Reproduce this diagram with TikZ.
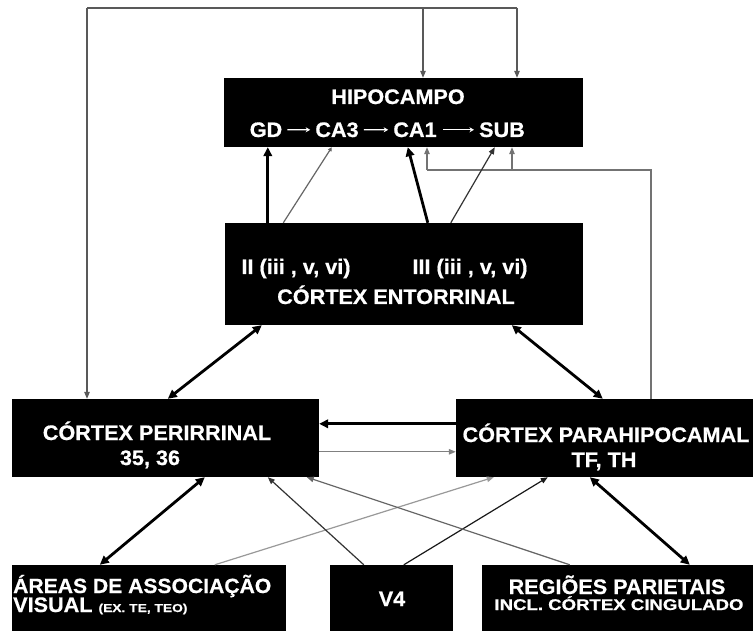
\documentclass[tikz,border=0pt]{standalone}
\usepackage{fontspec}
\setmainfont{Liberation Sans}[FakeStretch=1.03,FakeBold=0.6]
\newfontfamily\widefont{Liberation Sans}[FakeStretch=1.2,FakeBold=0.6]
\usetikzlibrary{arrows.meta}
\begin{document}
\begin{tikzpicture}[x=1pt,y=-1pt,
  box/.style={fill=black,draw=none,inner sep=0pt},
  lbl/.style={text=white,font=\fontsize{21}{24}\selectfont\bfseries,inner sep=0pt,anchor=base},
  lblw/.style={lbl,anchor=base west},
  small/.style={text=white,font=\widefont\fontsize{15.5}{18}\selectfont\bfseries,inner sep=0pt,anchor=base},
  thk/.style={line width=2.8pt,draw=black},
  thka/.style={thk,-{Triangle[length=9pt,width=8.5pt]}},
  thkd/.style={thk,{Triangle[length=9pt,width=8.5pt]}-{Triangle[length=9pt,width=8.5pt]}},
  thnl/.style={line width=1.2pt,draw=#1},
  thnl/.default={black!65},
  thna/.style={line width=1.2pt,draw=#1,-{Triangle[length=7pt,width=5.5pt]}},
  thna/.default={black!65},
  txtarr/.style={draw=white,line width=1.2pt,-{Stealth[length=4.5pt,width=5pt]}}
]
\fill[white] (0,0) rectangle (753,631);
\useasboundingbox (0,0) rectangle (753,631);

% boxes
\node[box,minimum width=359pt,minimum height=69pt] (hip) at (403.5,112.5) {};
\node[box,minimum width=358.5pt,minimum height=102pt] (ent) at (403.75,274) {};
\node[box,minimum width=307pt,minimum height=78pt] (peri) at (165.5,438) {};
\node[box,minimum width=297pt,minimum height=78pt] (para) at (604.5,438) {};
\node[box,minimum width=274pt,minimum height=66pt] (areas) at (149,598) {};
\node[box,minimum width=123pt,minimum height=66pt] (v4) at (391.5,598) {};
\node[box,minimum width=271pt,minimum height=66pt] (reg) at (617.5,598) {};

% texts
\node[lbl] (hipt) at (398,104) {HIPOCAMPO};
\node[lbl] (gd) at (266,137) {GD};
\node[lbl] (ca3) at (337,137) {CA3};
\node[lbl] (ca1) at (415,137) {CA1};
\node[lbl] (sub) at (502,137) {SUB};
\draw[txtarr] ([xshift=5pt]gd.east) -- ([xshift=-5pt]ca3.west);
\draw[txtarr] ([xshift=5pt]ca3.east) -- ([xshift=-5pt]ca1.west);
\draw[txtarr] ([xshift=6pt]ca1.east) -- ([xshift=-5pt]sub.west);

\node[lbl] (ent2) at (296,274) {II (iii , v, vi)};
\node[lbl] (ent3) at (470,274) {III (iii , v, vi)};
\node[lbl] (entt) at (396,304) {CÓRTEX ENTORRINAL};

\node[lbl] (perit) at (157,440) {CÓRTEX PERIRRINAL};
\node[lbl] (perin) at (150,465) {35, 36};

\node[lbl] (parat) at (606,442) {CÓRTEX PARAHIPOCAMAL};
\node[lbl] (paran) at (604,467) {TF, TH};

\node[lblw,font=\fontsize{20.5}{24}\selectfont\bfseries] (areat) at (13,593) {ÁREAS DE ASSOCIAÇÃO};
\node[lblw] (areav) at (13,612) {VISUAL {\widefont\fontsize{11.5}{14}\selectfont\bfseries (EX. TE, TEO)}};

\node[lbl] (v4t) at (392,606) {V4};

\node[lbl] (regt) at (617,594) {REGIÕES PARIETAIS};
\node[small] (regi) at (619,610) {INCL. CÓRTEX CINGULADO};

% coordinates for the routed connectors
\coordinate (tl) at (87,8);
\coordinate (tm) at (423,8);
\coordinate (tr) at (517,8);
\coordinate (f1) at (651,170);
\coordinate (f2) at (427,170);
\coordinate (f3) at (512,170);

% top feedback lines
\draw[thnl] (tl) -- (tr);
\draw[thna] (tl) -- (peri.north -| tl);
\draw[thna] (tm) -- (hip.north -| tm);
\draw[thna] (tr) -- (hip.north -| tr);

% parahippocampal to hippocampus
\draw[thnl=black!55] (para.north -| f1) -- (f1) -- (f2);
\draw[thna=black!55] (f2) -- (hip.south -| f2);
\draw[thna=black!55] (f3) -- (hip.south -| f3);

% entorhinal to hippocampus
\draw[thka] ([xshift=43.5pt]ent.north west) -- ([xshift=44pt]hip.south west);
\draw[thna=black!60,-{Triangle[length=4pt,width=4pt]}] ([xshift=59pt]ent.north west) -- ([xshift=108pt]hip.south west);
\draw[thka] ([xshift=203.5pt]ent.north west) -- ([xshift=184pt]hip.south west);
\draw[thna=black!80] ([xshift=226.5pt]ent.north west) -- ([xshift=271pt]hip.south west);

% entorhinal to perirhinal / parahippocampal
\draw[thkd] ([xshift=37.5pt]ent.south west) -- ([xshift=156pt]peri.north west);
\draw[thkd] ([xshift=287.5pt]ent.south west) -- ([xshift=147pt]para.north west);

% between perirhinal and parahippocampal
\draw[thka] ([yshift=-25pt]para.north west) -- ([yshift=-25pt]peri.north east);
\draw[thna=black!50] ([yshift=-53pt]peri.north east) -- ([yshift=-53pt]para.north west);

% bottom row connectors
\draw[thkd] ([xshift=88pt]areas.north west) -- ([xshift=193pt]peri.south west);
\draw[thna=black!40] ([xshift=203pt]areas.north west) -- ([xshift=38pt]para.south west);
\draw[thna=black!80] ([xshift=34pt]v4.north west) -- ([xshift=256pt]peri.south west);
\draw[thna=black!90] ([xshift=74pt]v4.north west) -- ([xshift=92pt]para.south west);
\draw[thna=black!60] ([xshift=88pt]reg.north west) -- ([xshift=295pt]peri.south west);
\draw[thkd] ([xshift=208pt]reg.north west) -- ([xshift=134pt]para.south west);
\end{tikzpicture}
\end{document}
